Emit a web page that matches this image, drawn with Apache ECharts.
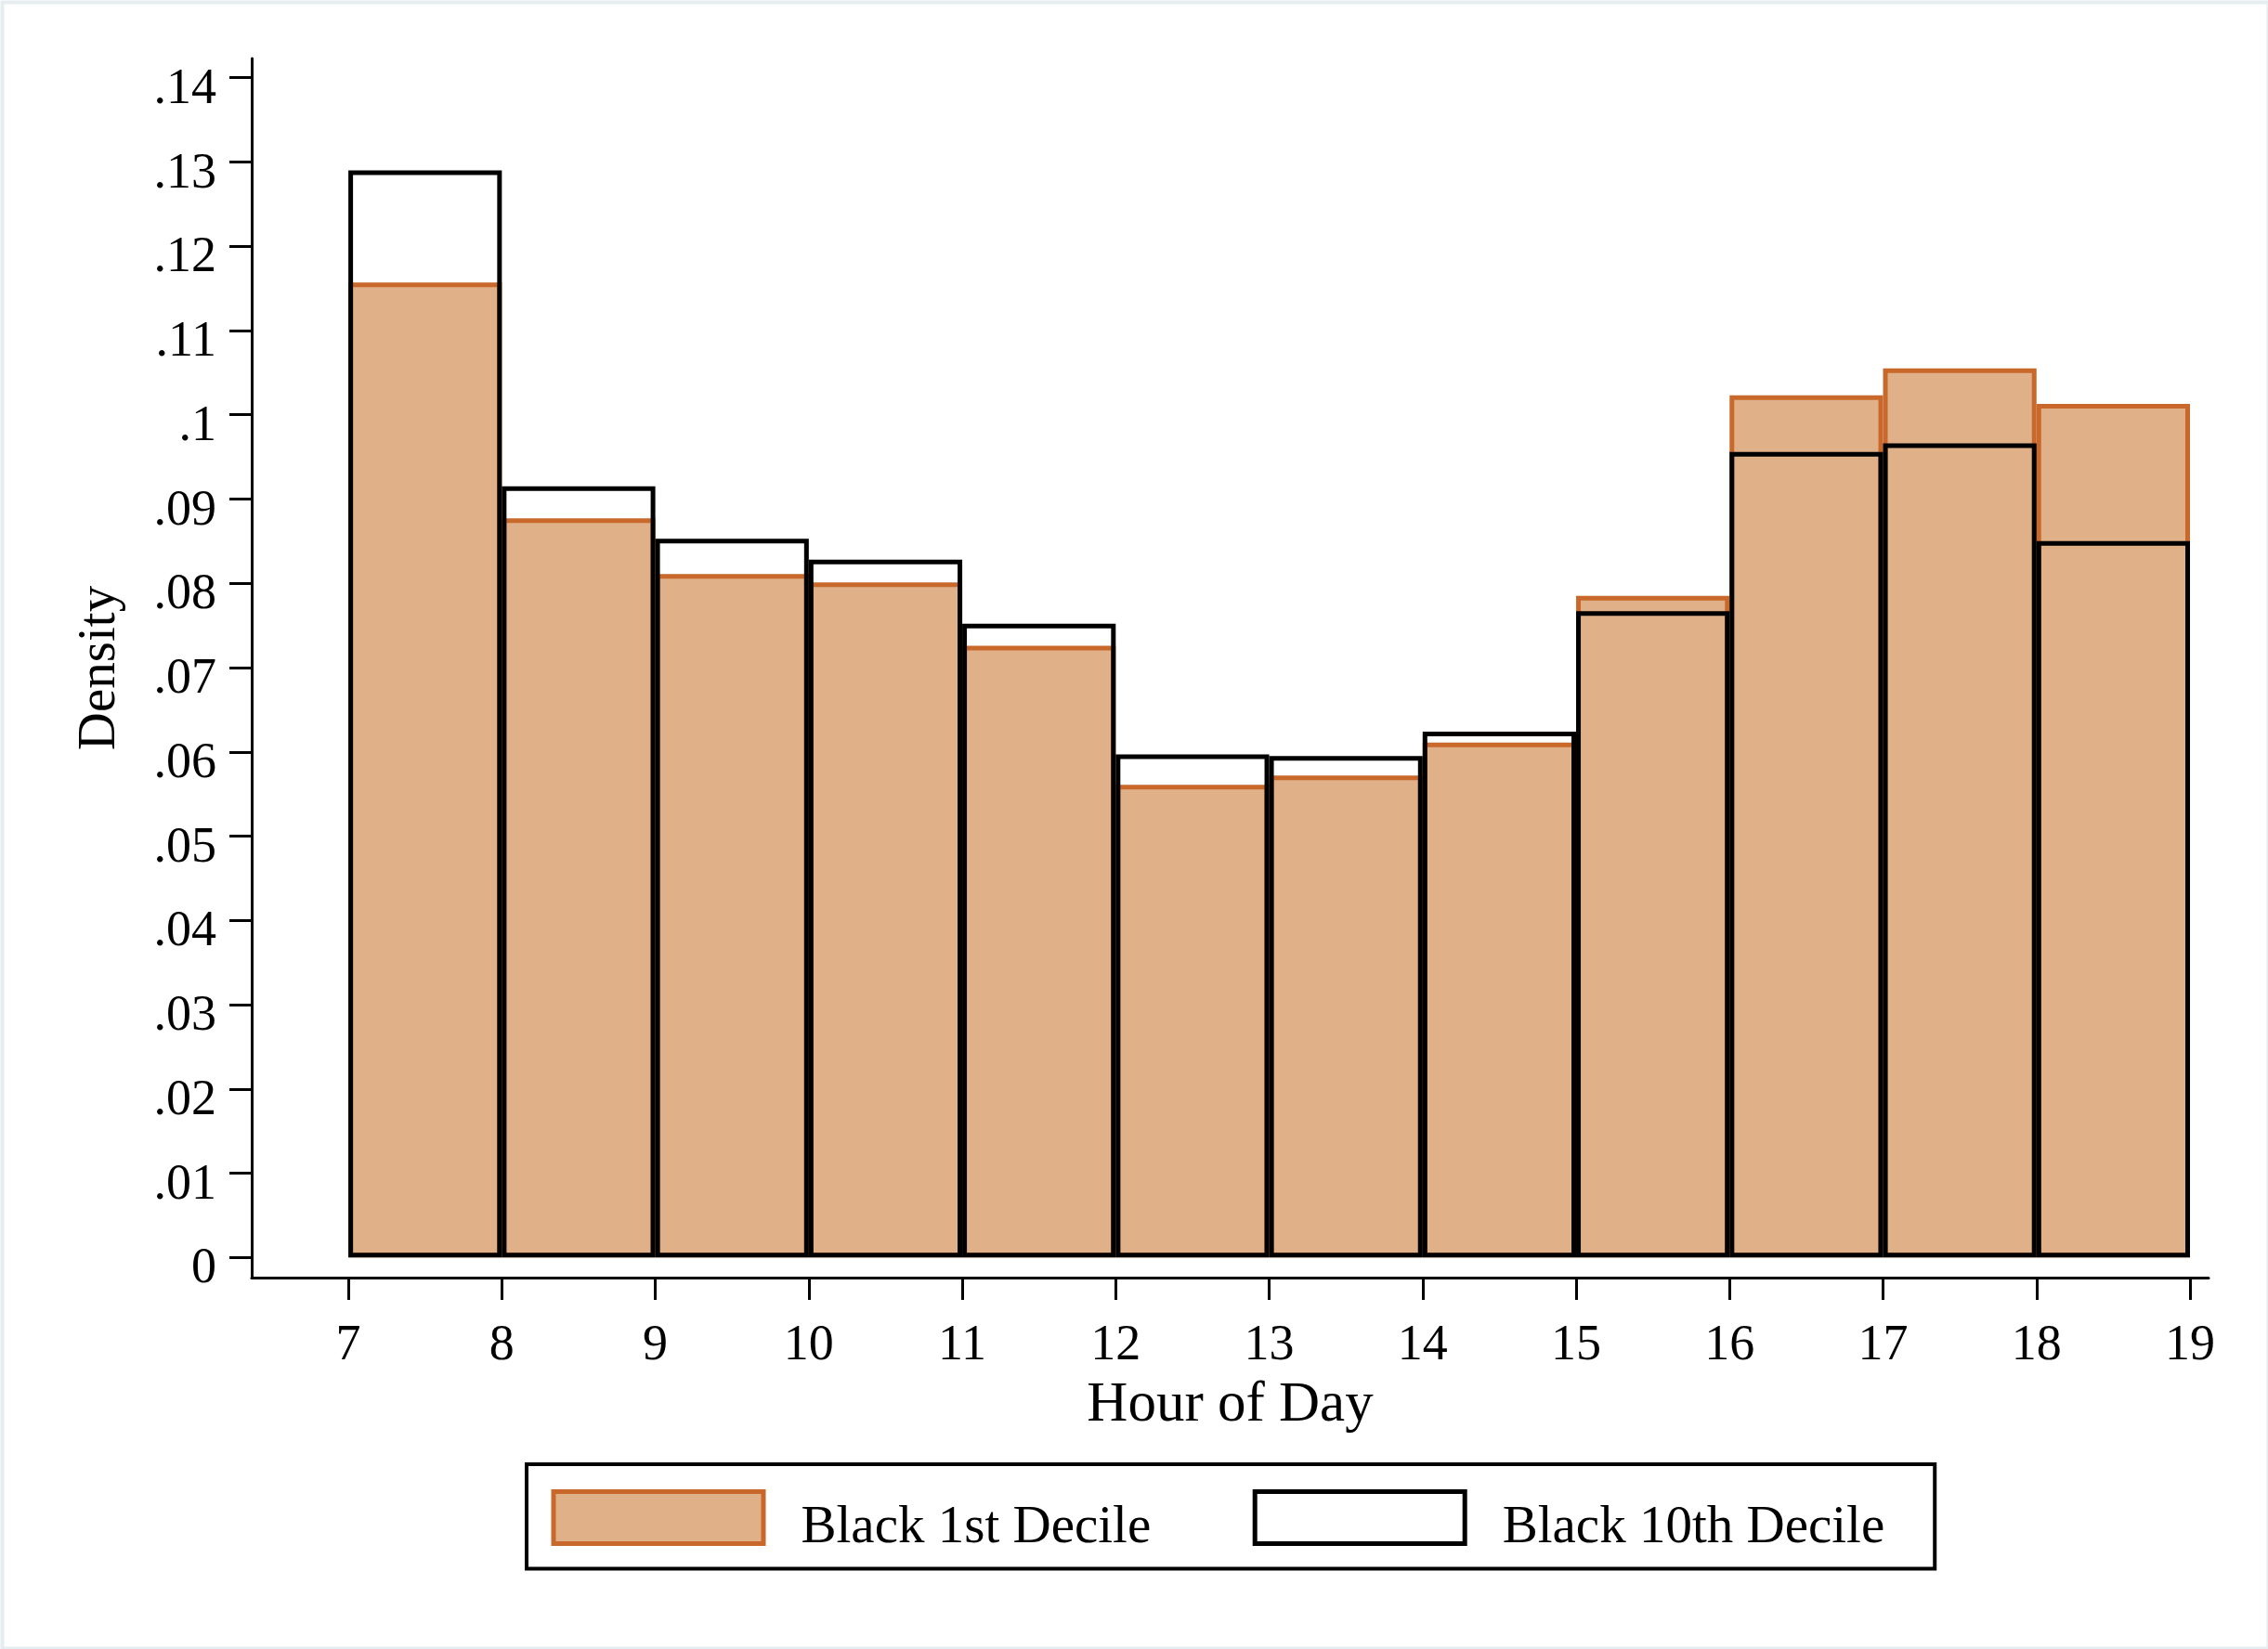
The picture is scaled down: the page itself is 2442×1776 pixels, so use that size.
<!DOCTYPE html>
<html>
<head>
<meta charset="utf-8">
<script src="https://cdn.jsdelivr.net/npm/echarts@6/dist/echarts.min.js"></script>
<style>
html,body{margin:0;padding:0;background:#fff;}
#chart{width:2442px;height:1776px;}
</style>
</head>
<body>
<div id="chart"></div>
<script>
// Histogram bins (hour of day, 1-hour wide)
const binStarts = [7, 8, 9, 10, 11, 12, 13, 14, 15, 16, 17, 18];
const binWidth = 1;
// Density per bin
const black1stDecile  = [0.1157, 0.0877, 0.0811, 0.0801, 0.0726, 0.0561, 0.0572, 0.0611, 0.0785, 0.1023, 0.1055, 0.1013];
const black10thDecile = [0.1290, 0.0915, 0.0853, 0.0828, 0.0752, 0.0597, 0.0595, 0.0624, 0.0767, 0.0956, 0.0966, 0.0850];
// Tick labels
const xTicks = [7, 8, 9, 10, 11, 12, 13, 14, 15, 16, 17, 18, 19];
const yTicks = [0, 0.01, 0.02, 0.03, 0.04, 0.05, 0.06, 0.07, 0.08, 0.09, 0.10, 0.11, 0.12, 0.13, 0.14];
const seriesNames = ['Black 1st Decile', 'Black 10th Decile'];
const xTitle = 'Hour of Day';
const yTitle = 'Density';

const FONT = 'Liberation Serif';
const ORANGE_FILL = '#E0B189';
const ORANGE_LINE = '#C8692B';
const LW = 5;

function toRows(vals) {
  return binStarts.map((s, i) => [s, s + binWidth, vals[i]]);
}
function makeRender(fill, stroke) {
  return function (params, api) {
    const x0 = api.value(0), x1 = api.value(1), v = api.value(2);
    const a = api.coord([x0, 0]);
    const b = api.coord([x1, v]);
    return {
      type: 'rect',
      shape: { x: a[0] + LW / 2, y: b[1] + LW / 2, width: b[0] - a[0] - LW, height: a[1] - b[1] - LW },
      style: { fill: fill, stroke: stroke, lineWidth: LW }
    };
  };
}
function yFmt(v) {
  if (Math.abs(v) < 1e-9) return '0';
  let s = (Math.round(v * 100) / 100).toFixed(2).replace(/0+$/, '');
  return s.replace(/^0/, '');
}

const chart = echarts.init(document.getElementById('chart'), null, { renderer: 'canvas' });
chart.setOption({
  backgroundColor: '#fff',
  animation: false,
  graphic: [{
    type: 'rect', left: 0, top: 0, silent: true,
    shape: { x: 1, y: 1, width: 2440, height: 1773 },
    style: { fill: 'none', stroke: '#E6EDF1', lineWidth: 4 }
  }],
  grid: { left: 271, right: 64, top: 63, bottom: 400, containLabel: false },
  xAxis: {
    type: 'value', min: 6.370, max: 19.121,
    name: xTitle, nameLocation: 'middle', nameGap: 107,
    nameTextStyle: { fontFamily: FONT, fontSize: 61, color: '#000' },
    axisLine: { onZero: false, lineStyle: { color: '#000', width: 3 } },
    axisTick: { show: true, length: 24, lineStyle: { color: '#000', width: 3 }, customValues: xTicks },
    axisLabel: { fontFamily: FONT, fontSize: 54, color: '#000', margin: 47, customValues: xTicks, formatter: v => String(v) },
    splitLine: { show: false }
  },
  yAxis: {
    type: 'value', min: -0.00239, max: 0.14228,
    name: yTitle, nameLocation: 'middle', nameGap: 134, nameRotate: 90,
    nameTextStyle: { fontFamily: FONT, fontSize: 57, color: '#000' },
    axisLine: { show: true, onZero: false, lineStyle: { color: '#000', width: 3 } },
    axisTick: { show: true, length: 24, lineStyle: { color: '#000', width: 3 }, customValues: yTicks },
    axisLabel: {
      fontFamily: FONT, fontSize: 54, color: '#000', margin: 38, customValues: yTicks,
      formatter: v => '{t|' + yFmt(v) + '}',
      rich: { t: { fontFamily: FONT, fontSize: 54, color: '#000', padding: [26, 0, 0, 0] } }
    },
    splitLine: { show: false }
  },
  legend: {
    left: 567, top: 1577, orient: 'horizontal',
    padding: [27, 54, 15, 26.5],
    itemWidth: 226, itemHeight: 56, itemGap: 109.5,
    borderColor: '#000', borderWidth: 4,
    icon: 'rect',
    formatter: name => '{t|' + name + '}',
    textStyle: {
      fontFamily: FONT, fontSize: 57, color: '#000',
      rich: { t: { fontFamily: FONT, fontSize: 57, color: '#000', padding: [23, 0, 0, 35.5] } }
    },
    data: [
      { name: seriesNames[0], itemStyle: { color: ORANGE_FILL, borderColor: ORANGE_LINE, borderWidth: 5 } },
      { name: seriesNames[1], itemStyle: { color: '#fff', borderColor: '#000', borderWidth: 5 } }
    ]
  },
  series: [
    {
      name: seriesNames[0], type: 'custom', clip: false,
      itemStyle: { color: ORANGE_FILL, borderColor: ORANGE_LINE },
      encode: { x: [0, 1], y: 2 },
      renderItem: makeRender(ORANGE_FILL, ORANGE_LINE),
      data: toRows(black1stDecile)
    },
    {
      name: seriesNames[1], type: 'custom', clip: false,
      itemStyle: { color: '#fff', borderColor: '#000' },
      encode: { x: [0, 1], y: 2 },
      renderItem: makeRender('none', '#000'),
      data: toRows(black10thDecile)
    }
  ]
});
</script>
</body>
</html>
